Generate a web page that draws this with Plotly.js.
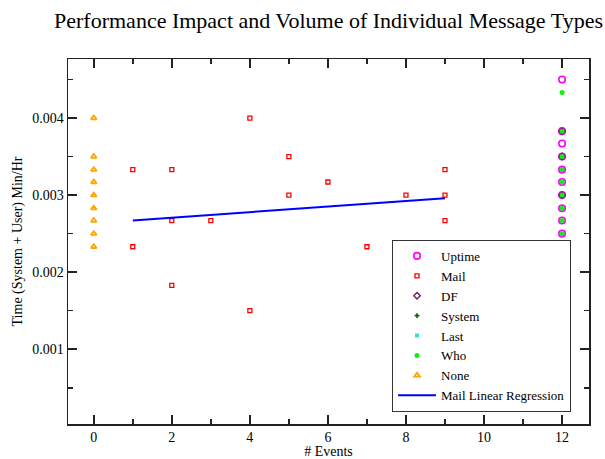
<!DOCTYPE html>
<html>
<head>
<meta charset="utf-8">
<script src="https://cdn.plot.ly/plotly-3.0.1.min.js"></script>
<style>body{margin:0;padding:0;background:#fff}#chart{width:605px;height:459px}</style>
</head>
<body>
<div id="chart"></div>
<script>
// ---- data ----
var uptimeX = [12,12,12,12,12,12,12,12,12,12];
var uptimeY = [0.0045,0.00383,0.00367,0.0035,0.00333,0.00317,0.003,0.00283,0.00267,0.0025];

var mailX = [1,1,2,2,2,3,4,4,5,5,6,7,8,9,9,9];
var mailY = [0.00333,0.00233,0.00333,0.00267,0.00183,0.00267,0.004,0.0015,0.0035,0.003,0.00317,0.00233,0.003,0.00333,0.003,0.00267];

var dfX = [12,12,12];
var dfY = [0.00383,0.0035,0.003];

var systemX = [12,12];
var systemY = [0.00333,0.00283];

var lastX = [12,12];
var lastY = [0.00317,0.0025];

var whoX = [12,12,12,12,12,12,12,12,12];
var whoY = [0.00433,0.00383,0.0035,0.00333,0.00317,0.003,0.00283,0.00267,0.0025];

var noneX = [0,0,0,0,0,0,0,0,0];
var noneY = [0.004,0.0035,0.00333,0.00317,0.003,0.00283,0.00267,0.0025,0.00233];

var regX = [1,9];
var regY = [0.00267,0.00296];

var seriesNames = ['Uptime','Mail','DF','System','Last','Who','None','Mail Linear Regression'];

var serif = 'Liberation Serif, Times New Roman, serif';

var traces = [
  {x:uptimeX, y:uptimeY, name:seriesNames[0], mode:'markers', type:'scatter',
   marker:{symbol:'circle-open', size:6.5, color:'#ff00ff', line:{width:1.6}}},
  {x:mailX, y:mailY, name:seriesNames[1], mode:'markers', type:'scatter',
   marker:{symbol:'square-open', size:4, color:'#ff0000', line:{width:1.3}}},
  {x:dfX, y:dfY, name:seriesNames[2], mode:'markers', type:'scatter',
   marker:{symbol:'diamond-open', size:5, color:'#6b1f5f', line:{width:1.4}}},
  {x:systemX, y:systemY, name:seriesNames[3], mode:'markers', type:'scatter',
   marker:{symbol:'cross', size:4, color:'#006400'}},
  {x:lastX, y:lastY, name:seriesNames[4], mode:'markers', type:'scatter',
   marker:{symbol:'square', size:4, color:'#40e0d0'}},
  {x:whoX, y:whoY, name:seriesNames[5], mode:'markers', type:'scatter',
   marker:{symbol:'circle', size:5, color:'#11ee11'}},
  {x:noneX, y:noneY, name:seriesNames[6], mode:'markers', type:'scatter',
   marker:{symbol:'triangle-up-open', size:5, color:'#ffa500', line:{width:1.8}}},
  {x:regX, y:regY, name:seriesNames[7], mode:'lines', type:'scatter',
   line:{color:'#0000ff', width:2}}
];

var axisCommon = {
  showgrid:false, zeroline:false, showline:true, linecolor:'#222', linewidth:1.5,
  mirror:'allticks', ticks:'inside', ticklen:9, tickwidth:1.5, tickcolor:'#222',
  tickfont:{family:serif, size:14, color:'#000'}
};

var layout = {
  width:605, height:459,
  margin:{l:68, r:16, t:59, b:35},
  paper_bgcolor:'#fff', plot_bgcolor:'#fff',
  font:{family:serif, color:'#000'},
  title:{text:'Performance Impact and Volume of Individual Message Types',
         font:{family:serif, size:22, color:'#000'},
         xref:'paper', x:0.5, xanchor:'center', yref:'container', y:0.956, yanchor:'middle'},
  xaxis:Object.assign({}, axisCommon, {
    range:[-0.66, 12.69], dtick:2, tick0:0,
    minor:{dtick:1, ticklen:5, tickwidth:1.5, tickcolor:'#222', ticks:'inside'},
    title:{text:'# Events', font:{family:serif, size:14, color:'#000'}, standoff:2}
  }),
  yaxis:Object.assign({}, axisCommon, {
    range:[0.00003, 0.004766], dtick:0.001, tick0:0, tickformat:'.3f',
    minor:{dtick:0.0005, ticklen:5, tickwidth:1.5, tickcolor:'#222', ticks:'inside'},
    title:{text:'Time (System + User) Min/Hr', font:{family:serif, size:14, color:'#000'}, standoff:6}
  }),
  showlegend:true,
  legend:{x:0.9655, xanchor:'right', y:0.033, yanchor:'bottom',
          bgcolor:'#fff', bordercolor:'#333', borderwidth:1, itemwidth:38,
          font:{family:serif, size:13, color:'#000'}, tracegroupgap:0}
};

Plotly.newPlot('chart', traces, layout, {displayModeBar:false, staticPlot:true});
</script>
</body>
</html>
